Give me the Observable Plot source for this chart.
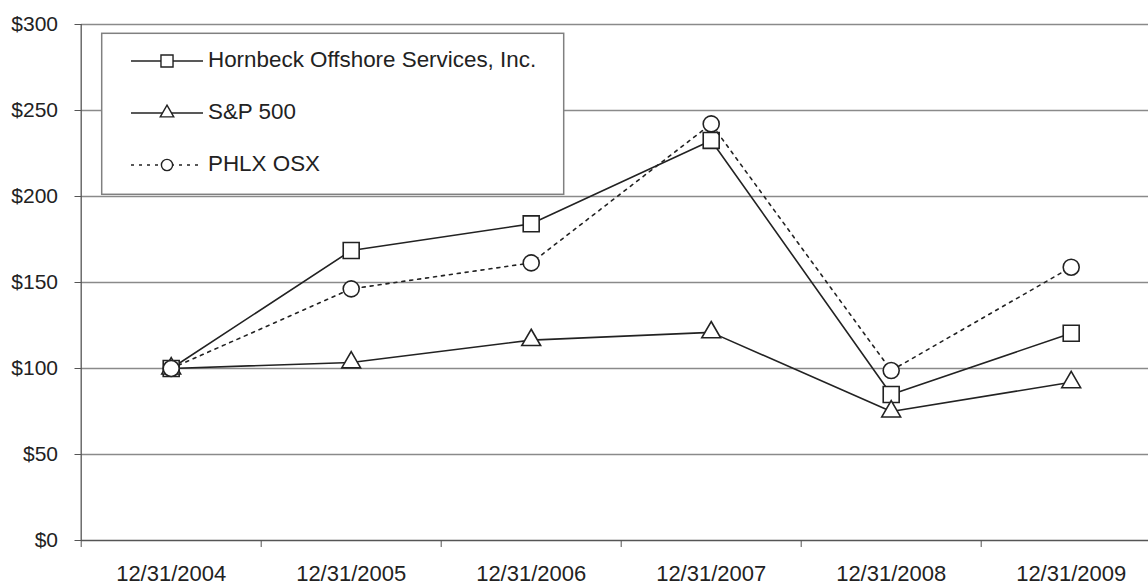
<!DOCTYPE html>
<html>
<head>
<meta charset="utf-8">
<script src="https://cdn.jsdelivr.net/npm/d3@7"></script>
<script src="https://cdn.jsdelivr.net/npm/@observablehq/plot@0.6"></script>
<style>
  html, body { margin: 0; padding: 0; background: #fff; }
  #chart svg { display: block; }
</style>
</head>
<body>
<div id="chart"></div>
<script>
const years = ["12/31/2004", "12/31/2005", "12/31/2006", "12/31/2007", "12/31/2008", "12/31/2009"];
const hornbeck = [100, 168.6, 184.1, 232.6, 84.9, 120.5];
const sp500 = [100, 103.5, 116.5, 121, 75, 92];
const osx = [100, 146.3, 161.4, 242.2, 98.8, 158.9];
const yTicks = [0, 50, 100, 150, 200, 250, 300];
const seriesNames = ["Hornbeck Offshore Services, Inc.", "S&P 500", "PHLX OSX"];

const FONT = "Liberation Sans, Arial, Helvetica, sans-serif";
const rows = (vals) => vals.map((v, i) => ({i, v}));
const hb = rows(hornbeck), sp = rows(sp500), ox = rows(osx);
const boundaries = d3.range(years.length + 1).map(i => i - 0.5);

const plot = Plot.plot({
  width: 1148,
  height: 586,
  marginLeft: 81,
  marginRight: 0,
  marginTop: 24,
  marginBottom: 46,
  style: {fontFamily: FONT, fontSize: "21px", color: "#222", background: "#fff"},
  x: {type: "linear", domain: [-0.5, years.length - 0.5], range: [80.7, 1160.7], label: null},
  y: {domain: [0, 300], range: [540, 24], label: null},
  marks: [
    Plot.gridY(yTicks.slice(1), {stroke: "#8a8a8a", strokeOpacity: 1, strokeWidth: 1.3}),
    Plot.ruleY([0], {stroke: "#555", strokeWidth: 1.3}),
    Plot.ruleX([-0.5], {y1: 0, y2: 300, stroke: "#555", strokeWidth: 1.3}),
    Plot.axisY({ticks: yTicks, tickFormat: d => "$" + d, tickSize: 6.5, tickPadding: 17,
      fontSize: 21, stroke: "#555", fill: "#222", label: null}),
    Plot.axisX({ticks: boundaries, tickFormat: () => "", tickSize: 7, stroke: "#555", label: null}),
    Plot.axisX({ticks: d3.range(years.length), tickFormat: i => years[i], tickSize: 0,
      tickPadding: 25, fontSize: 22, fill: "#222", label: null}),
    Plot.line(hb, {x: "i", y: "v", stroke: "#222", strokeWidth: 1.6}),
    Plot.dot(hb, {x: "i", y: "v", symbol: "square", r: 9, stroke: "#222", strokeWidth: 1.6, fill: "#fff"}),
    Plot.line(sp, {x: "i", y: "v", stroke: "#222", strokeWidth: 1.6}),
    Plot.dot(sp, {x: "i", y: "v", symbol: "triangle", r: 7, stroke: "#222", strokeWidth: 1.6, fill: "#fff"}),
    Plot.line(ox, {x: "i", y: "v", stroke: "#222", strokeWidth: 1.6, strokeDasharray: "3,5"}),
    Plot.dot(ox, {x: "i", y: "v", symbol: "circle", r: 8, stroke: "#222", strokeWidth: 1.6, fill: "#fff"})
  ]
});

// Legend inside the plot area
const svg = d3.select(plot);
const lg = svg.append("g").attr("font-family", FONT).attr("text-anchor", "start");
lg.append("rect").attr("x", 101.7).attr("y", 33.3).attr("width", 462).attr("height", 161)
  .attr("fill", "#fff").attr("stroke", "#808080").attr("stroke-width", 1.5);
const legendSymbols = [d3.symbolSquare, d3.symbolTriangle, d3.symbolCircle];
const legendR = [6.8, 5, 5.6];
const legendDash = [null, null, "3,5"];
seriesNames.forEach((name, k) => {
  const cy = 61 + k * 52;
  lg.append("line").attr("x1", 131).attr("x2", 203).attr("y1", cy).attr("y2", cy)
    .attr("stroke", "#222").attr("stroke-width", 1.6)
    .attr("stroke-dasharray", legendDash[k]);
  lg.append("path").attr("transform", `translate(167,${cy})`)
    .attr("d", d3.symbol(legendSymbols[k], legendR[k] * legendR[k] * Math.PI)())
    .attr("fill", "#fff").attr("stroke", "#222").attr("stroke-width", 1.4);
  lg.append("text").attr("x", 208).attr("y", cy - 1.5).attr("dy", "0.35em")
    .attr("text-anchor", "start")
    .attr("font-size", 22.4).attr("fill", "#222").text(name);
});

document.getElementById("chart").appendChild(plot);
</script>
</body>
</html>
